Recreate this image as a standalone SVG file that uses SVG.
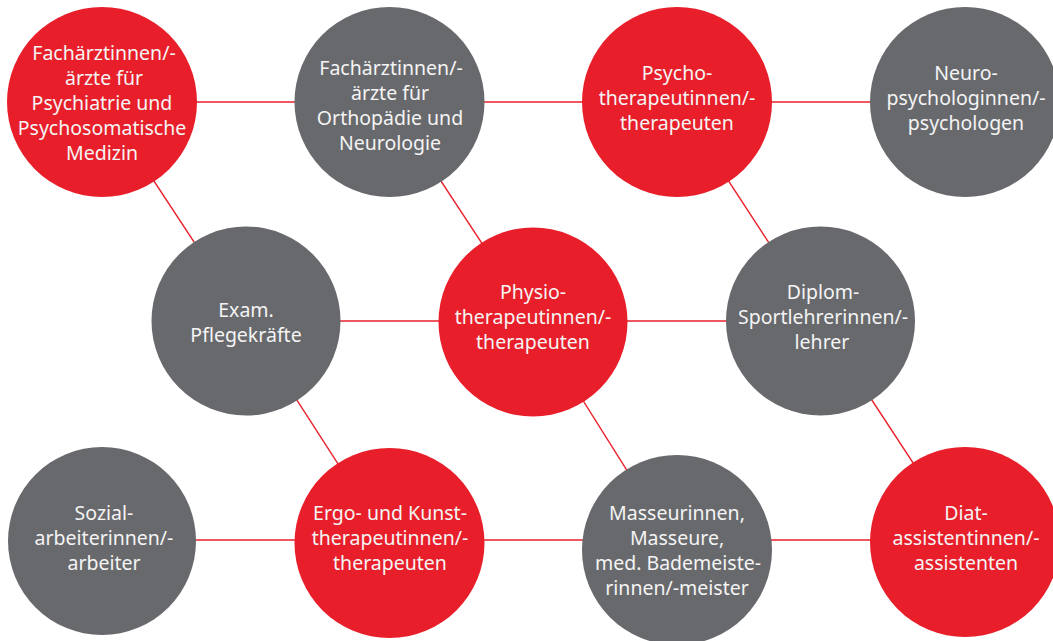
<svg xmlns="http://www.w3.org/2000/svg" width="1053" height="641" viewBox="0 0 1053 641">
<style>
.red{fill:#E81F2A}
.gray{fill:#68696D}
.lbl{font-family:"Noto Sans","Open Sans",sans-serif;font-size:19.5px;fill:#F4F4F4;text-anchor:middle}
.con line{stroke:#E81F2A;stroke-width:1.4}
</style>
<rect width="1053" height="641" fill="#FFFFFF"/>
<g id="connectors" class="con">
<line x1="102" y1="102" x2="965" y2="102"/>
<line x1="246" y1="321" x2="820" y2="321"/>
<line x1="102" y1="540" x2="965" y2="540"/>
<line x1="102" y1="102" x2="246" y2="321"/>
<line x1="389" y1="102" x2="533" y2="321"/>
<line x1="677" y1="102" x2="820" y2="321"/>
<line x1="246" y1="321" x2="389" y2="543"/>
<line x1="533" y1="321" x2="677" y2="550"/>
<line x1="820" y1="321" x2="965" y2="542"/>
</g>
<g id="n1"><circle class="red" cx="102" cy="102" r="95"/>
<text class="lbl"><tspan x="104" y="60">Fachärztinnen/-</tspan><tspan x="104" y="85">ärzte für</tspan><tspan x="102" y="110">Psychiatrie und</tspan><tspan x="102" y="135">Psychosomatische</tspan><tspan x="102" y="160">Medizin</tspan></text></g>
<g id="n2"><circle class="gray" cx="389.5" cy="102" r="95"/>
<text class="lbl"><tspan x="391" y="75">Fachärztinnen/-</tspan><tspan x="390" y="100">ärzte für</tspan><tspan x="390" y="125">Orthopädie und</tspan><tspan x="390" y="150">Neurologie</tspan></text></g>
<g id="n3"><circle class="red" cx="677" cy="102" r="95"/>
<text class="lbl"><tspan x="677" y="80">Psycho-</tspan><tspan x="677" y="105">therapeutinnen/-</tspan><tspan x="677" y="130">therapeuten</tspan></text></g>
<g id="n4"><circle class="gray" cx="965" cy="102" r="95"/>
<text class="lbl"><tspan x="966" y="80">Neuro-</tspan><tspan x="966" y="105">psychologinnen/-</tspan><tspan x="966" y="130">psychologen</tspan></text></g>
<g id="n5"><circle class="gray" cx="246" cy="321" r="94.5"/>
<text class="lbl"><tspan x="246" y="317">Exam.</tspan><tspan x="246" y="342">Pflegekräfte</tspan></text></g>
<g id="n6"><circle class="red" cx="533" cy="322" r="94.5"/>
<text class="lbl"><tspan x="533" y="299">Physio-</tspan><tspan x="533" y="324">therapeutinnen/-</tspan><tspan x="533" y="349">therapeuten</tspan></text></g>
<g id="n7"><circle class="gray" cx="820.5" cy="321" r="94.5"/>
<text class="lbl"><tspan x="823" y="299">Diplom-</tspan><tspan x="823" y="324">Sportlehrerinnen/-</tspan><tspan x="822" y="349">lehrer</tspan></text></g>
<g id="n8"><circle class="gray" cx="102" cy="541" r="94"/>
<text class="lbl"><tspan x="104" y="520">Sozial-</tspan><tspan x="104" y="545">arbeiterinnen/-</tspan><tspan x="104" y="570">arbeiter</tspan></text></g>
<g id="n9"><circle class="red" cx="389.5" cy="543" r="95"/>
<text class="lbl"><tspan x="390" y="520">Ergo- und Kunst-</tspan><tspan x="390" y="545">therapeutinnen/-</tspan><tspan x="390" y="570">therapeuten</tspan></text></g>
<g id="n10"><circle class="gray" cx="677" cy="550" r="95"/>
<text class="lbl"><tspan x="677" y="520">Masseurinnen,</tspan><tspan x="677" y="545">Masseure,</tspan><tspan x="678" y="570">med. Bademeiste-</tspan><tspan x="677" y="595">rinnen/-meister</tspan></text></g>
<g id="n11"><circle class="red" cx="965" cy="542" r="95"/>
<text class="lbl"><tspan x="966" y="520">Diat-</tspan><tspan x="966" y="545">assistentinnen/-</tspan><tspan x="966" y="570">assistenten</tspan></text></g>
</svg>
